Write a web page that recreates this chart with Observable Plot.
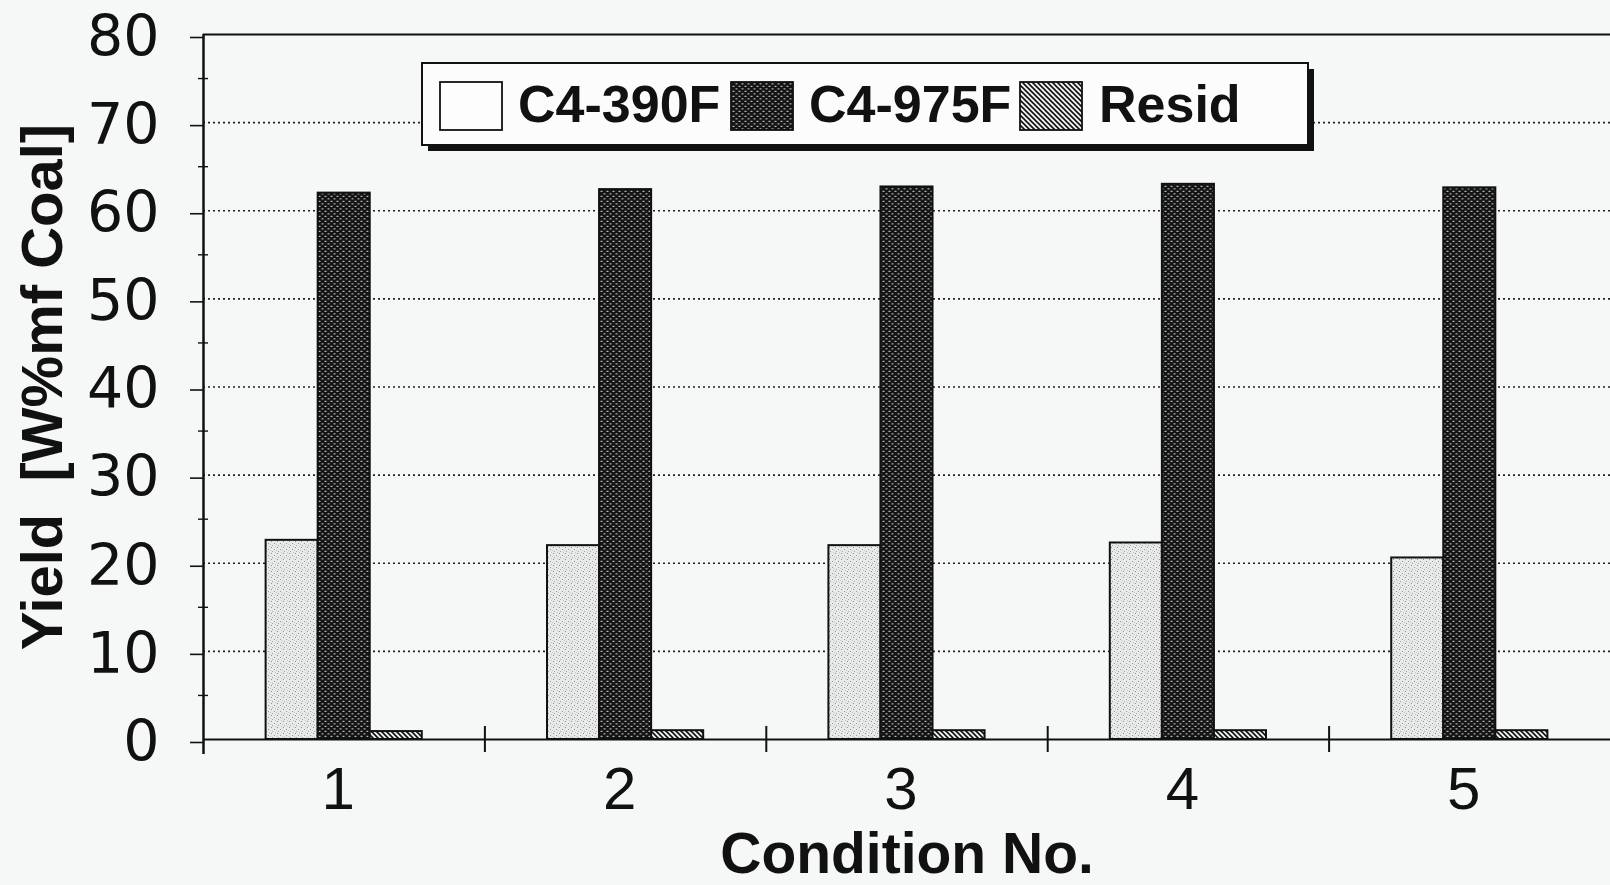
<!DOCTYPE html>
<html>
<head>
<meta charset="utf-8">
<script src="https://cdn.jsdelivr.net/npm/d3@7"></script>
<script src="https://cdn.jsdelivr.net/npm/@observablehq/plot@0.6"></script>
<style>
  html, body { margin: 0; padding: 0; background: #f6f8f7; }
  #wrap { position: relative; width: 1610px; height: 885px; overflow: hidden; }
  #legend { position: absolute; left: 0; top: 0; pointer-events: none; }
</style>
</head>
<body>
<div id="wrap">
  <div id="chart"></div>
  <svg id="legend" width="1330" height="170" xmlns="http://www.w3.org/2000/svg">
    <defs>
      <pattern id="p390" patternUnits="userSpaceOnUse" width="6" height="6">
        <rect width="6" height="6" fill="#e8eae9"/>
        <rect x="1" y="1" width="1" height="1" fill="#8f8f8f"/>
        <rect x="4" y="3" width="1" height="1" fill="#9a9a9a"/>
        <rect x="2" y="5" width="1" height="1" fill="#a5a5a5"/>
        <rect x="5" y="0" width="1" height="1" fill="#c2c2c2"/>
        <rect x="0" y="4" width="1" height="1" fill="#c8c8c8"/>
      </pattern>
      <pattern id="p975" patternUnits="userSpaceOnUse" width="6" height="5">
        <rect width="6" height="5" fill="#141414"/>
        <rect x="0.5" y="0.8" width="2" height="1.1" fill="#c8c8c8"/>
        <rect x="3.5" y="3.3" width="2" height="1.1" fill="#bdbdbd"/>
      </pattern>
      <pattern id="pres" patternUnits="userSpaceOnUse" width="5" height="5">
        <rect width="5" height="5" fill="#f2f2f2"/>
        <path d="M0,0L5,5M-1,4L1,6M4,-1L6,1" stroke="#111" stroke-width="1.6"/>
      </pattern>
    </defs>
    <g id="legend-body"></g>
  </svg>
</div>
<script>
// ---- data ----
const conditions = [1, 2, 3, 4, 5];
const series = ["C4-390F", "C4-975F", "Resid"];
const c4_390F = [22.6, 22.0, 22.0, 22.3, 20.6];
const c4_975F = [62.0, 62.4, 62.7, 63.0, 62.6];
const resid   = [0.9, 1.0, 1.0, 1.0, 1.0];
const yTicks = [0, 10, 20, 30, 40, 50, 60, 70, 80];
const gridValues = [10, 20, 30, 40, 50, 60, 70];
const minorTicks = [5, 15, 25, 35, 45, 55, 65, 75];
const boundaries = [1.5, 2.5, 3.5, 4.5];
const yTitle = "Yield\u00a0 [W%mf Coal]";
const xTitle = "Condition No.";

// ---- build table ----
const seriesValues = [c4_390F, c4_975F, resid];
const barW = 0.185, groupStart = -0.2775;
const rows = conditions.flatMap((c, i) => series.map((s, k) => ({
  condition: c, series: s, value: seriesValues[k][i],
  x1: c + groupStart + k * barW, x2: c + groupStart + (k + 1) * barW
})));
const fills = ["url(#p390)", "url(#p975)", "url(#pres)"];

const chart = Plot.plot({
  width: 1610, height: 885,
  marginLeft: 203, marginRight: 0, marginTop: 34, marginBottom: 146,
  style: { background: "#f6f8f7", color: "#111", fontFamily: "'Liberation Sans', Arial, sans-serif", overflow: "visible" },
  x: { domain: [0.5, 5.5] },
  y: { domain: [0, 80] },
  color: { type: "ordinal", domain: series, range: fills },
  marks: [
    Plot.ruleY(gridValues, { stroke: "#222", strokeWidth: 1.6, strokeDasharray: "2,3" }),
    Plot.ruleY([80], { stroke: "#111", strokeWidth: 2 }),
    Plot.rect(rows, { x1: "x1", x2: "x2", y1: 0, y2: "value", fill: "series", stroke: "#111", strokeWidth: 2 }),
    Plot.ruleY([0], { stroke: "#111", strokeWidth: 2 }),
    Plot.ruleX([0.5], { y1: 80, y2: 0, insetBottom: -15, stroke: "#111", strokeWidth: 2.5 }),
    Plot.ruleX(boundaries, { y1: 0, y2: 0, insetTop: -13, insetBottom: -13, stroke: "#111", strokeWidth: 2 }),
    Plot.ruleY(minorTicks, { x1: 0.5, x2: 0.5, insetLeft: -5, insetRight: -5, stroke: "#111", strokeWidth: 1.4 }),
    Plot.axisY({ ticks: yTicks, tickSize: 13, tickPadding: 31, fontSize: 57, fontFamily: "'DejaVu Sans', sans-serif", label: null, strokeWidth: 1.6, dy: 3 }),
    Plot.axisX({ ticks: conditions, tickSize: 0, tickPadding: 27, fontSize: 60, label: null, dx: -6, tickFormat: d => String(d) }),
    Plot.text([yTitle], { text: d => d, frameAnchor: "left", dx: -160, rotate: -90, textAnchor: "middle", lineAnchor: "middle", fontSize: 58, fontWeight: "bold" }),
    Plot.text([xTitle], { text: d => d, frameAnchor: "bottom", dy: 115, textAnchor: "middle", lineAnchor: "middle", fontSize: 57, fontWeight: "bold" })
  ]
});
document.getElementById("chart").appendChild(chart);

// ---- legend (inside plot area, top) ----
const lg = d3.select("#legend-body");
lg.append("rect").attr("x", 428).attr("y", 69).attr("width", 886).attr("height", 82).attr("fill", "#111");
lg.append("rect").attr("x", 422).attr("y", 63).attr("width", 886).attr("height", 82)
  .attr("fill", "#fbfcfb").attr("stroke", "#111").attr("stroke-width", 2);
const swX = [440, 731, 1020], txX = [518, 809, 1099];
const swFill = ["#fdfdfd", "url(#p975)", "url(#pres)"];
series.forEach((s, k) => {
  lg.append("rect").attr("x", swX[k]).attr("y", 82).attr("width", 62).attr("height", 48)
    .attr("fill", swFill[k]).attr("stroke", "#111").attr("stroke-width", 1.8);
  lg.append("text").attr("x", txX[k]).attr("y", 122).text(s)
    .attr("font-family", "'Liberation Sans', Arial, sans-serif").attr("font-weight", "bold")
    .attr("font-size", 52).attr("fill", "#111");
});
</script>
</body>
</html>
